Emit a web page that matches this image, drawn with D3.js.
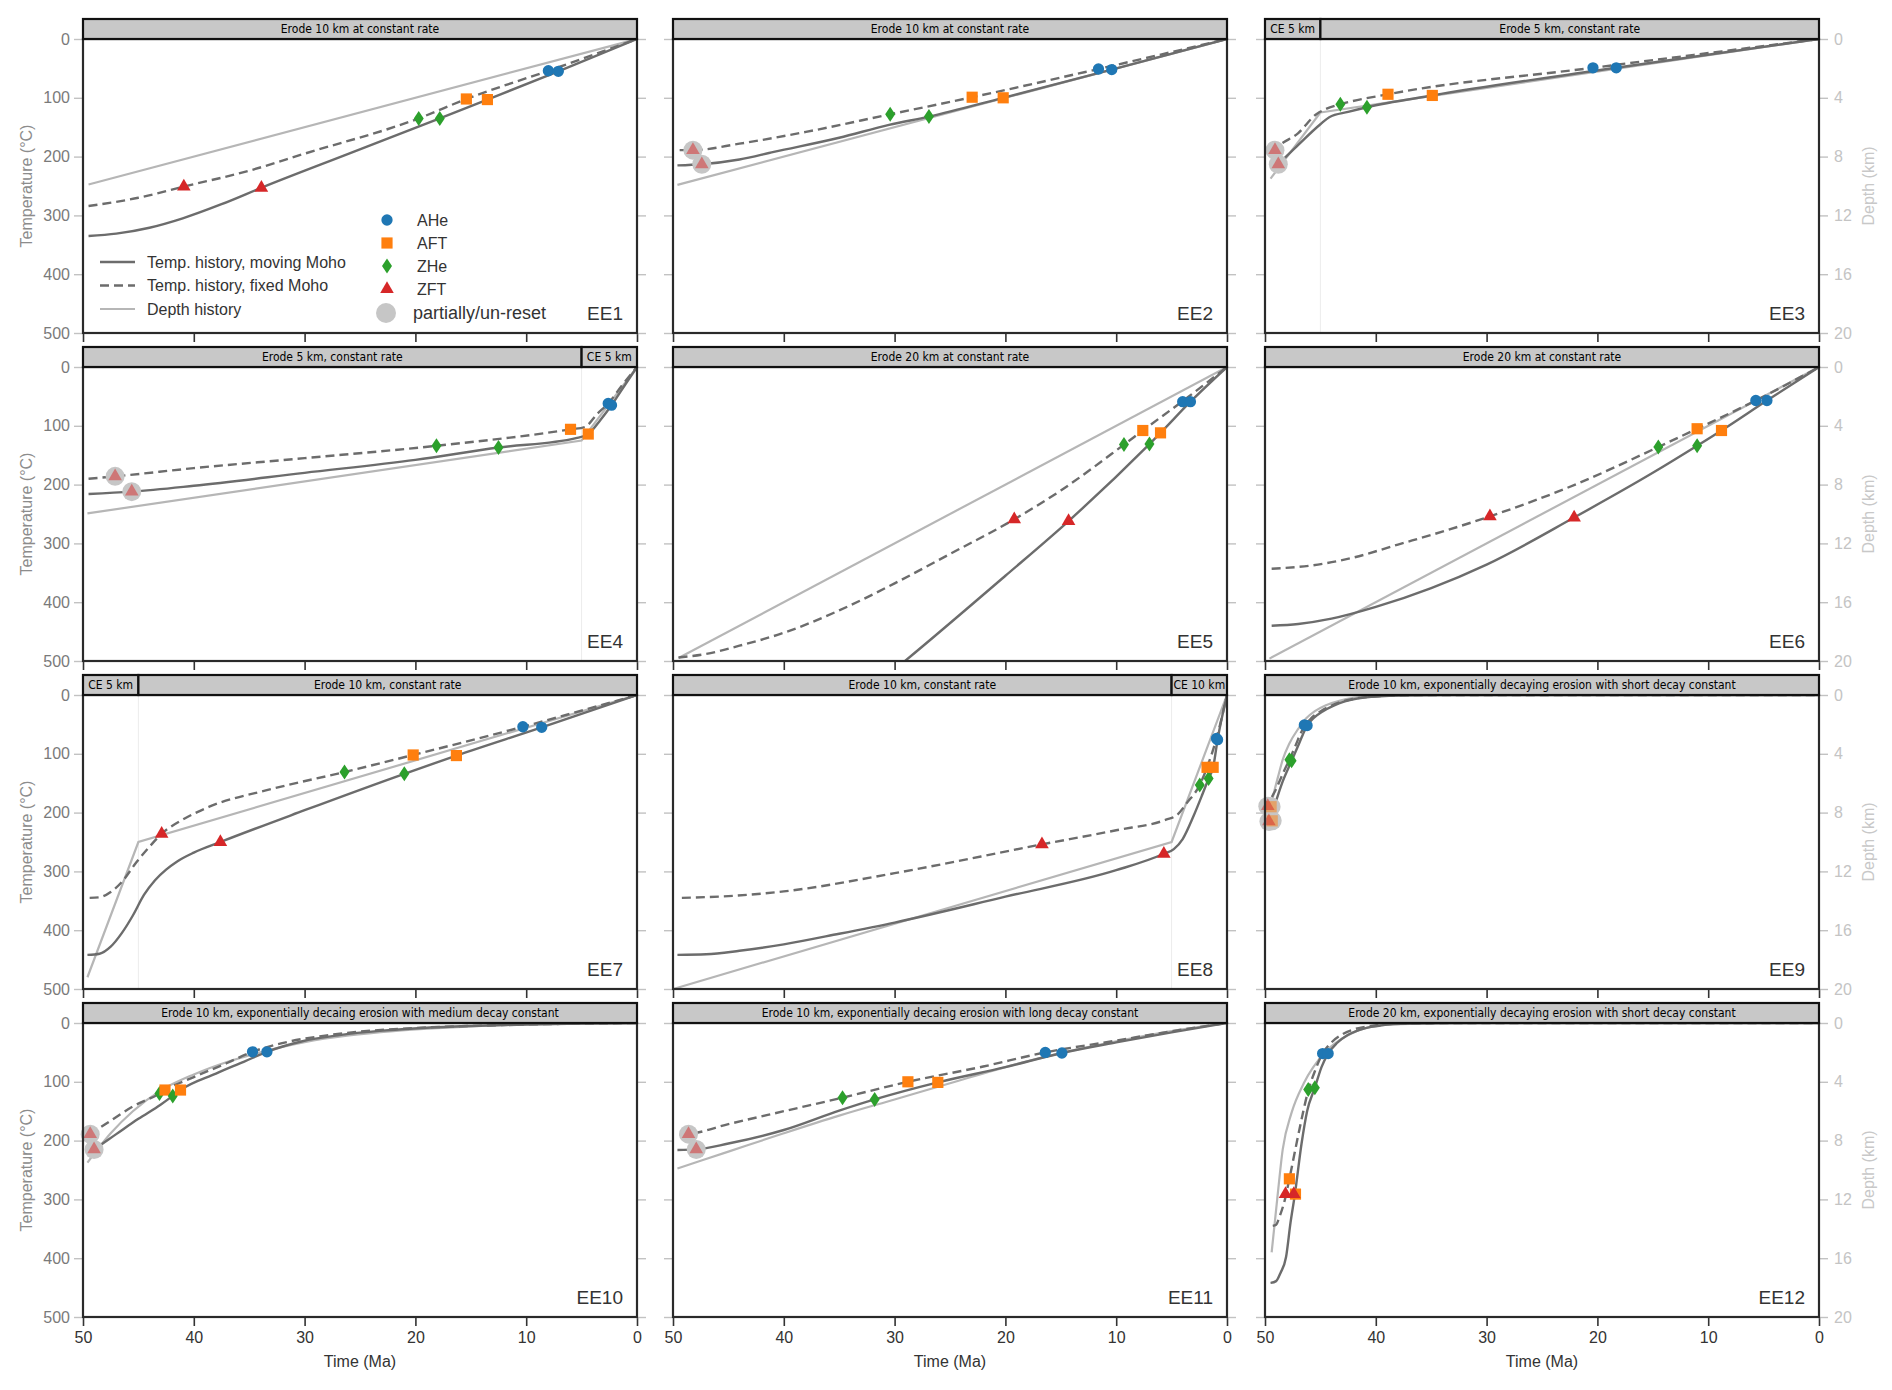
<!DOCTYPE html>
<html>
<head>
<meta charset="utf-8">
<script src="https://cdn.jsdelivr.net/npm/d3@7"></script>
<style>
  body { margin: 0; background: #fff; }
  svg { display: block; }
</style>
</head>
<body>
<div id="chart"></div>
<script>
// ---- data: strips [label, from Ma, to Ma] ----
const ee1Strips = [["Erode 10 km at constant rate", 50, 0]];
const ee2Strips = [["Erode 10 km at constant rate", 50, 0]];
const ee3Strips = [["CE 5 km", 50, 45], ["Erode 5 km, constant rate", 45, 0]];
const ee4Strips = [["Erode 5 km, constant rate", 50, 5], ["CE 5 km", 5, 0]];
const ee5Strips = [["Erode 20 km at constant rate", 50, 0]];
const ee6Strips = [["Erode 20 km at constant rate", 50, 0]];
const ee7Strips = [["CE 5 km", 50, 45], ["Erode 10 km, constant rate", 45, 0]];
const ee8Strips = [["Erode 10 km, constant rate", 50, 5], ["CE 10 km", 5, 0]];
const ee9Strips = [["Erode 10 km, exponentially decaying erosion with short decay constant", 50, 0]];
const ee10Strips = [["Erode 10 km, exponentially decaing erosion with medium decay constant", 50, 0]];
const ee11Strips = [["Erode 10 km, exponentially decaing erosion with long decay constant", 50, 0]];
const ee12Strips = [["Erode 20 km, exponentially decaying erosion with short decay constant", 50, 0]];

// ---- temperature histories [time Ma, T °C] ----
const ee1Moving = [[49.5,335],[47,331],[44,321],[41,305],[37.5,281],[33.9,253],[26,195],[17.8,135],[13.5,103],[7.1,55],[0,0]];
const ee1Fixed  = [[49.5,284],[45,270],[40.9,251],[35,224],[30,195],[19.7,135],[15.4,102],[8,54],[0,0]];
const ee2Moving = [[49.6,215],[47.4,213],[44,205],[40.9,192],[35,168],[30.5,146],[26.9,132],[20.2,100],[10.4,52],[0,0]];
const ee2Fixed  = [[49.4,189],[48.2,189],[44,178],[38,158],[30.4,128],[23,99],[11.6,51],[0,0]];
const ee3Moving = [[49.3,222],[48.8,213],[47,180],[45,145],[44.2,133],[42.5,124],[40.8,116],[34.9,96],[18.3,49],[0,0]];
const ee3Fixed  = [[49.3,194],[49.1,189],[47,160],[45.3,127],[44.5,119],[43.2,111],[38.9,94],[20.4,49],[0,0]];
const ee4Moving = [[49.5,216],[45.6,212],[40,202],[30,180],[20,158],[12.5,137],[5.5,121],[4.4,114],[3.3,90],[2.3,65],[1,28],[0,0]];
const ee4Fixed  = [[49.5,190],[47.1,186],[40,172],[30,155],[18.1,134],[6,106],[4.7,102],[3.6,80],[2.6,62],[1.3,30],[0,0]];
const ee5Moving = [[31,530],[29,499],[20,355],[14.3,262],[7,131],[6,112],[3.3,59],[0,0]];
const ee5Fixed  = [[49.5,494],[47,488],[44,474],[40,452],[35,414],[30,368],[25,318],[19.2,259],[15,210],[9.3,132],[7.6,108],[4,58],[0,0]];
const ee6Moving = [[49.4,440],[47,437],[44,428],[40,408],[35,376],[30,336],[22.1,256],[15,180],[11,134],[8.8,108],[4.7,57],[0,0]];
const ee6Fixed  = [[49.4,343],[46,338],[42,324],[38,302],[34,280],[29.7,254],[22,200],[14.5,136],[11,105],[5.7,57],[0,0]];
const ee7Moving = [[49.6,442],[48.5,440],[47.5,428],[46.5,405],[45.5,375],[44.5,340],[43.5,315],[42.5,297],[41.5,283],[40,268],[37.6,250],[30,196],[21,134],[16.3,103],[8.6,55],[0,0]];
const ee7Fixed  = [[49.4,345],[48.5,344],[47.5,335],[46.5,318],[45.2,285],[44,258],[42.9,236],[41,212],[38.6,190],[33,160],[26.4,131],[20.2,102],[10.3,54],[0,0]];
const ee8Moving = [[49.6,442],[47,441],[44,435],[40,424],[35,406],[30,387],[20,343],[10,298],[5.7,270],[4.8,262],[4,245],[3,205],[2.2,168],[1.66,142],[1.25,123],[0.85,76],[0,0]];
const ee8Fixed  = [[49.2,345],[45,342],[40,334],[30,303],[16.7,254],[10,230],[5.5,212],[4.5,204],[3.6,183],[2.46,153],[1.8,123],[0.95,74],[0,0]];
const ee9Moving = [[49.8,223],[49.6,214],[49,180],[48.4,147],[47.6,112],[47,86],[46.6,68],[46.2,52],[45.6,39],[44.8,28],[43.8,18],[42.8,11],[41.8,6.5],[40.3,3],[38.8,1.2],[36.8,0.4],[34,0],[0,0]];
const ee9Fixed  = [[49.8,196],[49.7,189],[49,160],[48.3,130],[47.8,110],[47.2,84],[46.8,66],[46.4,52],[45.8,39],[45,28],[44,18],[43,11],[42,6.5],[40.5,3],[39,1.2],[37,0.4],[34,0],[0,0]];
const ee10Moving = [[49.4,220],[49,215],[47,189],[45,163],[43,139],[41.9,124],[41.2,114],[38,86],[35.5,66],[33.4,49],[30.2,31],[27,21],[23,13],[19,8],[15,5],[10,2.5],[5,1],[0,0]];
const ee10Fixed  = [[49.4,190],[47.5,166],[45.5,142],[43.1,120],[42.6,114],[40,92],[37,68],[34.7,49],[31.5,32],[28,21],[24,13],[20,8.5],[15,5],[10,2.5],[5,1],[0,0]];
const ee11Moving = [[49.6,216],[47.9,215],[45,205],[40,182],[35,149],[31.8,130],[26.1,101],[20,75],[14.9,51],[10,33],[5,16],[0,0]];
const ee11Fixed  = [[49.4,190],[48.6,189],[45,172],[40,150],[34.7,127],[28.8,100],[22,74],[16.4,50],[10,30],[5,14],[0,0]];
const ee12Moving = [[49.5,442],[49,439],[48.6,425],[48.1,398],[47.7,340],[47.3,291],[46.7,205],[46.2,150],[45.5,110],[44.9,75],[44.3,52],[43.5,34],[42.5,20],[41,9],[39.5,4],[37,1],[33,0.2],[30,0],[0,0]];
const ee12Fixed  = [[49.3,345],[49,343],[48.7,330],[48.2,300],[47.8,265],[47.1,200],[46.6,155],[46.1,115],[45.5,82],[44.8,52],[44,33],[43,19],[42,11],[40.5,5],[38.5,1.5],[35,0.3],[30,0],[0,0]];

// ---- depth histories [time Ma, depth km] ----
const ee1Depth = [[49.5,9.9],[0,0]];
const ee2Depth = [[49.6,9.92],[0,0]];
const ee3Depth = [[49.5,9.5],[45,5],[0,0]];
const ee4Depth = [[49.6,9.96],[5,5],[0,0]];
const ee5Depth = [[49.5,19.8],[0,0]];
const ee6Depth = [[49.6,19.84],[0,0]];
const ee7Depth = [[49.6,19.2],[45,10],[0,0]];
const ee8Depth = [[49.9,19.98],[5,10],[0,0]];
const ee9Depth = [[49.8,9.0],[49.3,7.0],[48.8,5.5],[48.4,4.4],[47.8,3.3],[47,2.3],[46.3,1.6],[45.5,1.1],[44.5,0.7],[43.3,0.4],[42,0.2],[40.5,0.1],[38.5,0.03],[35,0],[0,0]];
const ee10Depth = [[49.6,9.5],[47.5,7.5],[45.5,6.0],[43,4.6],[40,3.5],[37,2.65],[34,2.0],[30,1.3],[26,0.85],[22,0.55],[18,0.35],[14,0.2],[10,0.1],[5,0.04],[0,0]];
const ee11Depth = [[49.6,9.9],[45,8.75],[40,7.5],[35,6.3],[30,5.2],[25,4.1],[20,3.0],[15,2.05],[10,1.25],[5,0.55],[0,0]];
const ee12Depth = [[49.4,15.6],[48.9,12.0],[48.4,8.6],[47.6,6.1],[46.5,4.1],[44.6,2.0],[42.7,0.9],[40.9,0.34],[38.5,0.1],[35,0.02],[30,0],[0,0]];

// ---- ages [system, time Ma, T °C, partially reset] ----
const ee1Ages = [["ZFT",40.9,251,0],["ZHe",19.7,135,0],["AFT",15.4,102,0],["AHe",8.0,54,0],
                 ["ZFT",33.9,253,0],["ZHe",17.8,135,0],["AFT",13.5,103,0],["AHe",7.1,55,0]];
const ee2Ages = [["ZFT",48.2,189,1],["ZHe",30.4,128,0],["AFT",23.0,99,0],["AHe",11.6,51,0],
                 ["ZFT",47.4,213,1],["ZHe",26.9,132,0],["AFT",20.2,100,0],["AHe",10.4,52,0]];
const ee3Ages = [["ZFT",49.1,189,1],["ZHe",43.2,111,0],["AFT",38.9,94,0],["AHe",20.4,49,0],
                 ["ZFT",48.8,213,1],["ZHe",40.8,116,0],["AFT",34.9,96,0],["AHe",18.3,49,0]];
const ee4Ages = [["ZFT",47.1,186,1],["ZHe",18.1,134,0],["AFT",6.0,106,0],["AHe",2.6,62,0],
                 ["ZFT",45.6,212,1],["ZHe",12.5,137,0],["AFT",4.4,114,0],["AHe",2.3,65,0]];
const ee5Ages = [["ZFT",19.2,259,0],["ZHe",9.3,132,0],["AFT",7.6,108,0],["AHe",4.0,59,0],
                 ["ZFT",14.3,262,0],["ZHe",7.0,131,0],["AFT",6.0,112,0],["AHe",3.3,59,0]];
const ee6Ages = [["ZFT",29.7,254,0],["ZHe",14.5,136,0],["AFT",11.0,105,0],["AHe",5.7,57,0],
                 ["ZFT",22.1,256,0],["ZHe",11.0,134,0],["AFT",8.8,108,0],["AHe",4.7,57,0]];
const ee7Ages = [["ZFT",42.9,236,0],["ZHe",26.4,131,0],["AFT",20.2,102,0],["AHe",10.3,54,0],
                 ["ZFT",37.6,250,0],["ZHe",21.0,134,0],["AFT",16.3,103,0],["AHe",8.6,55,0]];
const ee8Ages = [["ZFT",16.7,254,0],["ZHe",2.46,153,0],["AFT",1.8,123,0],["AHe",0.95,74,0],
                 ["ZFT",5.7,270,0],["ZHe",1.66,142,0],["AFT",1.25,123,0],["AHe",0.85,76,0]];
const ee9Ages = [["AFT",49.45,190,1],["ZFT",49.75,189,1],["ZHe",47.8,110,0],["AHe",46.45,51,0],
                 ["AFT",49.35,214,1],["ZFT",49.65,215,1],["ZHe",47.6,112,0],["AHe",46.2,52,0]];
const ee10Ages = [["ZFT",49.35,189,1],["ZHe",43.1,120,0],["AFT",42.6,114,0],["AHe",34.7,49,0],
                  ["ZFT",49.0,215,1],["ZHe",41.9,124,0],["AFT",41.2,114,0],["AHe",33.4,49,0]];
const ee11Ages = [["ZFT",48.6,189,1],["ZHe",34.7,127,0],["AFT",28.8,100,0],["AHe",16.4,50,0],
                  ["ZFT",47.9,215,1],["ZHe",31.8,130,0],["AFT",26.1,101,0],["AHe",14.9,51,0]];
const ee12Ages = [["AFT",47.8,265,0],["ZFT",48.15,291,0],["ZHe",46.1,113,0],["AHe",44.8,52,0],
                  ["AFT",47.25,291,0],["ZFT",47.4,291,0],["ZHe",45.5,110,0],["AHe",44.3,52,0]];

// ---- axis ticks ----
const timeTicks = [50, 40, 30, 20, 10, 0];
const tempTicks = [0, 100, 200, 300, 400, 500];
const depthTicks = [0, 4, 8, 12, 16, 20];

// ---- legend ----
const lineLegend = ["Temp. history, moving Moho", "Temp. history, fixed Moho", "Depth history"];
const ageLegend = ["AHe", "AFT", "ZHe", "ZFT"];

const panels = [
  {name: "EE1", strips: ee1Strips, moving: ee1Moving, fixed: ee1Fixed, depth: ee1Depth, ages: ee1Ages},
  {name: "EE2", strips: ee2Strips, moving: ee2Moving, fixed: ee2Fixed, depth: ee2Depth, ages: ee2Ages},
  {name: "EE3", strips: ee3Strips, moving: ee3Moving, fixed: ee3Fixed, depth: ee3Depth, ages: ee3Ages},
  {name: "EE4", strips: ee4Strips, moving: ee4Moving, fixed: ee4Fixed, depth: ee4Depth, ages: ee4Ages},
  {name: "EE5", strips: ee5Strips, moving: ee5Moving, fixed: ee5Fixed, depth: ee5Depth, ages: ee5Ages},
  {name: "EE6", strips: ee6Strips, moving: ee6Moving, fixed: ee6Fixed, depth: ee6Depth, ages: ee6Ages},
  {name: "EE7", strips: ee7Strips, moving: ee7Moving, fixed: ee7Fixed, depth: ee7Depth, ages: ee7Ages},
  {name: "EE8", strips: ee8Strips, moving: ee8Moving, fixed: ee8Fixed, depth: ee8Depth, ages: ee8Ages},
  {name: "EE9", strips: ee9Strips, moving: ee9Moving, fixed: ee9Fixed, depth: ee9Depth, ages: ee9Ages, smooth: true},
  {name: "EE10", strips: ee10Strips, moving: ee10Moving, fixed: ee10Fixed, depth: ee10Depth, ages: ee10Ages, smooth: true},
  {name: "EE11", strips: ee11Strips, moving: ee11Moving, fixed: ee11Fixed, depth: ee11Depth, ages: ee11Ages, smooth: true},
  {name: "EE12", strips: ee12Strips, moving: ee12Moving, fixed: ee12Fixed, depth: ee12Depth, ages: ee12Ages, smooth: true},
];

// ---- layout ----
const width = 1892, height = 1390;
const colX = [83, 673, 1265], rowY = [39, 367, 695, 1023];
const W = 554, H = 294, stripH = 20;
const font = "'Liberation Sans', Arial, sans-serif";
const narrow = "'Liberation Sans Narrow', 'DejaVu Sans Condensed', sans-serif";

const lineGray = "#6c6c6c", depthGray = "#b6b6b6";
const ageColor = {AHe: "#1f77b4", AFT: "#ff7f0e", ZHe: "#2ca02c", ZFT: "#d62728"};
const ageSymbol = {
  AHe: d3.symbol(d3.symbolCircle, 100)(),
  AFT: d3.symbol(d3.symbolSquare, 125)(),
  ZHe: "M0,-7.5L5,0L0,7.5L-5,0Z",
  ZFT: d3.symbol(d3.symbolTriangle, 80)(),
};

const svg = d3.select("#chart").append("svg")
  .attr("width", width)
  .attr("height", height)
  .attr("viewBox", [0, 0, width, height])
  .style("font-family", font);

panels.forEach((p, i) => {
  const col = i % 3, row = Math.floor(i / 3);
  const left = colX[col], top = rowY[row];
  const x = d3.scaleLinear([50, 0], [left, left + W]);
  const y = d3.scaleLinear([0, 500], [top, top + H]);
  const yd = d3.scaleLinear([0, 20], [top, top + H]);
  const g = svg.append("g");

  // axes: ticks on every panel, labels only on the outside
  const bottom = g.append("g")
    .attr("transform", `translate(0,${top + H})`)
    .call(d3.axisBottom(x).tickValues(timeTicks).tickSize(9).tickPadding(6)
      .tickFormat(row === 3 ? d3.format("d") : ""));
  bottom.select(".domain").remove();
  bottom.selectAll("line").attr("stroke", "#333").attr("stroke-width", 1.6);
  bottom.selectAll("text").attr("fill", "#333").style("font-size", "16px").style("font-family", font);

  const leftAx = g.append("g")
    .attr("transform", `translate(${left},0)`)
    .call(d3.axisLeft(y).tickValues(tempTicks).tickSize(9).tickPadding(4)
      .tickFormat(col === 0 ? d3.format("d") : ""));
  leftAx.select(".domain").remove();
  leftAx.selectAll("line").attr("stroke", "#c2c2c2").attr("stroke-width", 1.4);
  leftAx.selectAll("text").attr("fill", "#7a7a7a").style("font-size", "16px").style("font-family", font);

  const rightAx = g.append("g")
    .attr("transform", `translate(${left + W},0)`)
    .call(d3.axisRight(yd).tickValues(depthTicks).tickSize(9).tickPadding(6)
      .tickFormat(col === 2 ? d3.format("d") : ""));
  rightAx.select(".domain").remove();
  rightAx.selectAll("line").attr("stroke", "#c2c2c2").attr("stroke-width", 1.4);
  rightAx.selectAll("text").attr("fill", "#c4c4c4").style("font-size", "16px").style("font-family", font);

  // stage boundaries
  p.strips.slice(1).forEach(s => {
    g.append("line")
      .attr("x1", x(s[1])).attr("x2", x(s[1]))
      .attr("y1", top).attr("y2", top + H)
      .attr("stroke", "#ececec").attr("stroke-width", 1);
  });

  // lines
  const clipId = `clip${i}`;
  svg.append("clipPath").attr("id", clipId)
    .append("rect").attr("x", left).attr("y", top).attr("width", W).attr("height", H);
  const lines = g.append("g").attr("clip-path", `url(#${clipId})`).attr("fill", "none");

  const tempLine = d3.line().x(d => x(d[0])).y(d => y(d[1])).curve(d3.curveMonotoneX);
  const depthLine = d3.line().x(d => x(d[0])).y(d => yd(d[1]))
    .curve(p.smooth ? d3.curveMonotoneX : d3.curveLinear);

  lines.append("path").attr("d", depthLine(p.depth))
    .attr("stroke", depthGray).attr("stroke-width", 2.2);
  lines.append("path").attr("d", tempLine(p.moving))
    .attr("stroke", lineGray).attr("stroke-width", 2.4);
  lines.append("path").attr("d", tempLine(p.fixed))
    .attr("stroke", lineGray).attr("stroke-width", 2.4).attr("stroke-dasharray", "9,5");

  // ages
  const ages = g.append("g");
  ages.selectAll("circle.partial")
    .data(p.ages.filter(d => d[3]))
    .join("circle")
    .attr("class", "partial")
    .attr("cx", d => x(d[1])).attr("cy", d => y(d[2]))
    .attr("r", 9.5).attr("fill", "#c6c6c6");
  ages.selectAll("path")
    .data(p.ages)
    .join("path")
    .attr("transform", d => `translate(${x(d[1])},${y(d[2])})`)
    .attr("d", d => ageSymbol[d[0]])
    .attr("fill", d => ageColor[d[0]])
    .attr("fill-opacity", d => d[3] ? 0.5 : 1);

  // frame
  g.append("rect")
    .attr("x", left).attr("y", top).attr("width", W).attr("height", H)
    .attr("fill", "none").attr("stroke", "#2a2a2a").attr("stroke-width", 2.2);

  // strips
  p.strips.forEach(s => {
    const x0 = x(s[1]), x1 = x(s[2]);
    g.append("rect")
      .attr("x", x0).attr("y", top - stripH).attr("width", x1 - x0).attr("height", stripH)
      .attr("fill", "#c8c8c8").attr("stroke", "#111").attr("stroke-width", 2.2);
    g.append("text")
      .attr("x", (x0 + x1) / 2).attr("y", top - stripH / 2)
      .attr("dy", "0.36em").attr("text-anchor", "middle")
      .style("font-family", narrow).style("font-size", "12px")
      .attr("fill", "#000")
      .text(s[0]);
  });

  // panel name
  g.append("text")
    .attr("x", left + W - 14).attr("y", top + H - 13)
    .attr("text-anchor", "end")
    .style("font-size", "19px").attr("fill", "#333")
    .text(p.name);

  // outer axis titles
  if (col === 0) {
    g.append("text")
      .attr("transform", `translate(26,${top + H / 2}) rotate(-90)`)
      .attr("text-anchor", "middle").attr("dy", "0.35em")
      .style("font-size", "16px").attr("fill", "#8c8c8c")
      .text("Temperature (°C)");
  }
  if (col === 2) {
    g.append("text")
      .attr("transform", `translate(1868,${top + H / 2}) rotate(-90)`)
      .attr("text-anchor", "middle").attr("dy", "0.35em")
      .style("font-size", "16px").attr("fill", "#c8c8c8")
      .text("Depth (km)");
  }
  if (row === 3) {
    g.append("text")
      .attr("x", left + W / 2).attr("y", 1367)
      .attr("text-anchor", "middle")
      .style("font-size", "16px").attr("fill", "#333")
      .text("Time (Ma)");
  }
});

// legend inside EE1
const legend = svg.append("g");
const lineStyles = [
  {stroke: lineGray, dash: null, w: 2.4},
  {stroke: lineGray, dash: "9,5", w: 2.4},
  {stroke: depthGray, dash: null, w: 2.2},
];
lineLegend.forEach((label, i) => {
  const ly = 262 + i * 23.5;
  legend.append("line")
    .attr("x1", 100).attr("x2", 135).attr("y1", ly).attr("y2", ly)
    .attr("stroke", lineStyles[i].stroke).attr("stroke-width", lineStyles[i].w)
    .attr("stroke-dasharray", lineStyles[i].dash);
  legend.append("text")
    .attr("x", 147).attr("y", ly).attr("dy", "0.35em")
    .style("font-size", "16px").attr("fill", "#333")
    .text(label);
});
ageLegend.forEach((label, i) => {
  const ly = 220 + i * 23;
  legend.append("path")
    .attr("transform", `translate(387,${ly})`)
    .attr("d", ageSymbol[label]).attr("fill", ageColor[label]);
  legend.append("text")
    .attr("x", 417).attr("y", ly).attr("dy", "0.35em")
    .style("font-size", "16px").attr("fill", "#333")
    .text(label);
});
legend.append("circle")
  .attr("cx", 386).attr("cy", 313).attr("r", 10).attr("fill", "#c6c6c6");
legend.append("text")
  .attr("x", 413).attr("y", 313).attr("dy", "0.35em")
  .style("font-size", "18px").attr("fill", "#333")
  .text("partially/un-reset");
</script>
</body>
</html>
